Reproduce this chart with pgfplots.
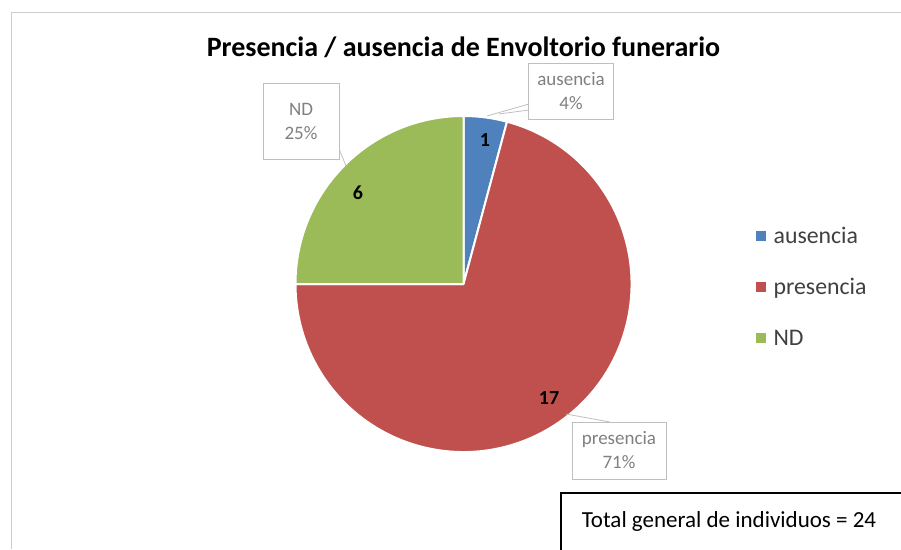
\documentclass[border=0pt]{standalone}
\usepackage{pgfplots}
\pgfplotsset{compat=1.18}
\usepackage{pgfplotstable}
\usepackage{fontspec}
\setmainfont{Carlito}
\definecolor{cA}{HTML}{4F81BD}
\definecolor{cP}{HTML}{C0504D}
\definecolor{cN}{HTML}{9BBB59}
\definecolor{lbl}{HTML}{808080}
\definecolor{legtxt}{HTML}{404040}
\definecolor{boxgray}{HTML}{BFBFBF}

\pgfplotstableread{
name value
ausencia 1
presencia 17
ND 6
}\piedata

\begin{document}
\begin{tikzpicture}
\pgfplotstablegetelem{0}{value}\of\piedata \let\vA\pgfplotsretval
\pgfplotstablegetelem{1}{value}\of\piedata \let\vP\pgfplotsretval
\pgfplotstablegetelem{2}{value}\of\piedata \let\vN\pgfplotsretval
\pgfmathsetmacro{\tot}{\vA+\vP+\vN}
\pgfmathsetmacro{\aA}{90-360*\vA/\tot}
\pgfmathsetmacro{\aP}{\aA-360*\vP/\tot}
\pgfmathsetmacro{\aN}{\aP-360*\vN/\tot}
\begin{axis}[
  name=ax,
  scale only axis, width=901pt, height=549pt,
  xmin=0, xmax=901, ymin=0, ymax=549, y dir=reverse,
  hide axis, clip=false,
  legend style={draw=none, fill=none, font=\fontsize{23.8}{28}\selectfont, text=legtxt,
    at={(axis cs:756,228.5)}, anchor=north west, row sep=31pt, column sep=8pt,
    inner sep=0pt, nodes={inner sep=0pt, text height=15pt, text depth=5pt}},
  legend cell align=left,
  legend image code/.code={\fill[#1] (0pt,-1pt) rectangle (9pt,8pt);},
]
% outer chart frame
\draw[boxgray!80, line width=1pt] (axis cs:11,12) -- (axis cs:901,12);
\draw[boxgray!80, line width=1pt] (axis cs:11,12) -- (axis cs:11,549);
% pie
\fill[cA, draw=white, line width=2pt, line join=round] (axis cs:463.5,284) -- ++(90:168pt) arc[start angle=90, end angle=\aA, radius=168pt] -- cycle;
\fill[cP, draw=white, line width=2pt, line join=round] (axis cs:463.5,284) -- ++(\aA:168pt) arc[start angle=\aA, end angle=\aP, radius=168pt] -- cycle;
\fill[cN, draw=white, line width=2pt, line join=round] (axis cs:463.5,284) -- ++(\aP:168pt) arc[start angle=\aP, end angle=\aN, radius=168pt] -- cycle;
\addlegendimage{cA}\addlegendentry{ausencia}
\addlegendimage{cP}\addlegendentry{presencia}
\addlegendimage{cN}\addlegendentry{ND}
% title
\node[font=\bfseries\fontsize{28}{32}\selectfont] at (axis cs:463.5,47) {Presencia / ausencia de Envoltorio funerario};
% data labels
\node[font=\bfseries\fontsize{20}{24}\selectfont] at (axis cs:485,140) {\vA};
\node[font=\bfseries\fontsize{20}{24}\selectfont] at (axis cs:549,398) {\vP};
\node[font=\bfseries\fontsize{20}{24}\selectfont] at (axis cs:358,193) {\vN};
% leader lines
\draw[boxgray, line width=0.8pt] (axis cs:487,116) -- (axis cs:529,104);
\draw[boxgray, line width=0.8pt] (axis cs:499,114) -- (axis cs:529,110);
\draw[boxgray, line width=0.8pt] (axis cs:338,146) -- (axis cs:346,166);
\draw[boxgray, line width=0.8pt] (axis cs:566,414) -- (axis cs:610,422);
% callout boxes
\node[draw=boxgray, fill=white, line width=0.8pt, text=lbl, align=center, inner sep=0pt,
  minimum width=85pt, minimum height=56pt, font=\fontsize{19}{24}\selectfont]
  at (axis cs:571,91) {ausencia\\4\%};
\node[draw=boxgray, fill=white, line width=0.8pt, text=lbl, align=center, inner sep=0pt,
  minimum width=76pt, minimum height=76pt, font=\fontsize{19}{24}\selectfont]
  at (axis cs:301,121) {ND\\25\%};
\node[draw=boxgray, fill=white, line width=0.8pt, text=lbl, align=center, inner sep=0pt,
  minimum width=94pt, minimum height=57pt, font=\fontsize{19}{24}\selectfont]
  at (axis cs:619,450.5) {presencia\\71\%};
% total box
\draw[black, line width=1.5pt, fill=white] (axis cs:905,493) -- (axis cs:561,493) -- (axis cs:561,553);
\node[font=\fontsize{23}{28}\selectfont] at (axis cs:729,521) {Total general de individuos = 24};
\end{axis}
\pgfresetboundingbox
\useasboundingbox (ax.south west) rectangle (ax.north east);
\end{tikzpicture}
\end{document}
